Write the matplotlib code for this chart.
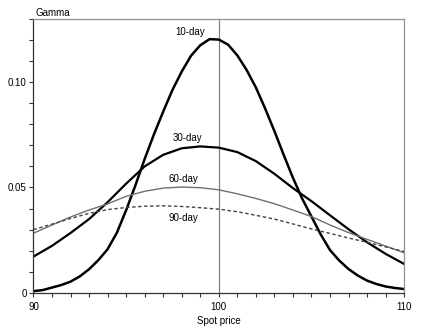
import numpy as np
import matplotlib
matplotlib.use("Agg")
import matplotlib.pyplot as plt
from matplotlib.ticker import MultipleLocator

plt.rcParams['font.family'] = ['Liberation Sans Narrow', 'Liberation Sans', 'DejaVu Sans']

# spot prices
spot_half = [90, 90.5, 91, 91.5, 92, 92.5, 93, 93.5, 94, 94.5, 95, 95.5, 96, 96.5,
             97, 97.5, 98, 98.5, 99, 99.5, 100, 100.5, 101, 101.5, 102, 102.5,
             103, 103.5, 104, 104.5, 105, 105.5, 106, 106.5, 107, 107.5, 108,
             108.5, 109, 109.5, 110]
spot = [90, 91, 92, 93, 94, 95, 96, 97, 98, 99, 100,
        101, 102, 103, 104, 105, 106, 107, 108, 109, 110]

gamma_10 = [0.0008, 0.0013, 0.0025, 0.0037, 0.0053, 0.0078, 0.0112, 0.0155, 0.0207,
            0.0285, 0.0392, 0.0510, 0.0635, 0.0752, 0.0860, 0.0963, 0.1050, 0.1125,
            0.1175, 0.1204, 0.1202, 0.1178, 0.1127, 0.1058, 0.0975, 0.0875, 0.0768,
            0.0655, 0.0546, 0.0447, 0.0362, 0.0277, 0.0203, 0.0153, 0.0113, 0.0082,
            0.0058, 0.0042, 0.0030, 0.0023, 0.0018]
gamma_30 = [0.0172, 0.0223, 0.0284, 0.0350, 0.0430, 0.0518, 0.0600, 0.0655, 0.0686,
            0.0695, 0.0689, 0.0668, 0.0625, 0.0565, 0.0497, 0.0435, 0.0368, 0.0302,
            0.0240, 0.0185, 0.0137]
gamma_60 = [0.0283, 0.0322, 0.0360, 0.0393, 0.0422, 0.0458, 0.0482, 0.0497, 0.0502,
            0.0499, 0.0489, 0.0470, 0.0448, 0.0423, 0.0393, 0.0362, 0.0322, 0.0286,
            0.0254, 0.0222, 0.0190]
gamma_90 = [0.0300, 0.0326, 0.0353, 0.0377, 0.0395, 0.0405, 0.0411, 0.0413, 0.0410,
            0.0404, 0.0397, 0.0385, 0.0368, 0.0350, 0.0327, 0.0303, 0.0282, 0.0260,
            0.0240, 0.0218, 0.0196]

fig = plt.figure(figsize=(4.29, 3.32), dpi=100)
ax = fig.add_axes([0.078, 0.118, 0.864, 0.825])

ax.axvline(100, color='#808080', lw=0.9, zorder=1)
ax.plot(spot_half, gamma_10, color='black', lw=1.8)
ax.plot(spot, gamma_30, color='black', lw=1.6)
ax.plot(spot, gamma_60, color='#707070', lw=1.0)
ax.plot(spot, gamma_90, color='#444444', lw=1.0, dashes=(2.5, 1.8))

ax.text(98.46, 0.1236, '10-day', fontsize=7, ha='center', va='center')
ax.text(98.3, 0.0733, '30-day', fontsize=7, ha='center', va='center')
ax.text(98.08, 0.0539, '60-day', fontsize=7, ha='center', va='center')
ax.text(98.08, 0.0354, '90-day', fontsize=7, ha='center', va='center')

ax.set_xlim(90, 110)
ax.set_ylim(0, 0.13)
ax.set_xticks([90, 100, 110])
ax.set_xticklabels(['90', '100', '110'])
ax.set_yticks([0, 0.05, 0.10])
ax.set_yticklabels(['0', '0.05', '0.10'])
ax.xaxis.set_minor_locator(MultipleLocator(1))
ax.yaxis.set_minor_locator(MultipleLocator(0.01))
ax.tick_params(which='both', direction='out', length=3, width=0.8, labelsize=7,
               top=False, right=False, color='#333333')
ax.tick_params(axis='x', pad=3.5)
ax.tick_params(axis='y', pad=2)

for s in ['top', 'right']:
    ax.spines[s].set_color('#909090')
    ax.spines[s].set_linewidth(0.9)
for s in ['left', 'bottom']:
    ax.spines[s].set_color('#333333')
    ax.spines[s].set_linewidth(0.9)

ax.set_xlabel('Spot price', fontsize=7, labelpad=3)
fig.text(35 / 429, 1 - 13.5 / 332, 'Gamma', fontsize=7, ha='left', va='center')

fig.savefig('out.png', dpi=100)
